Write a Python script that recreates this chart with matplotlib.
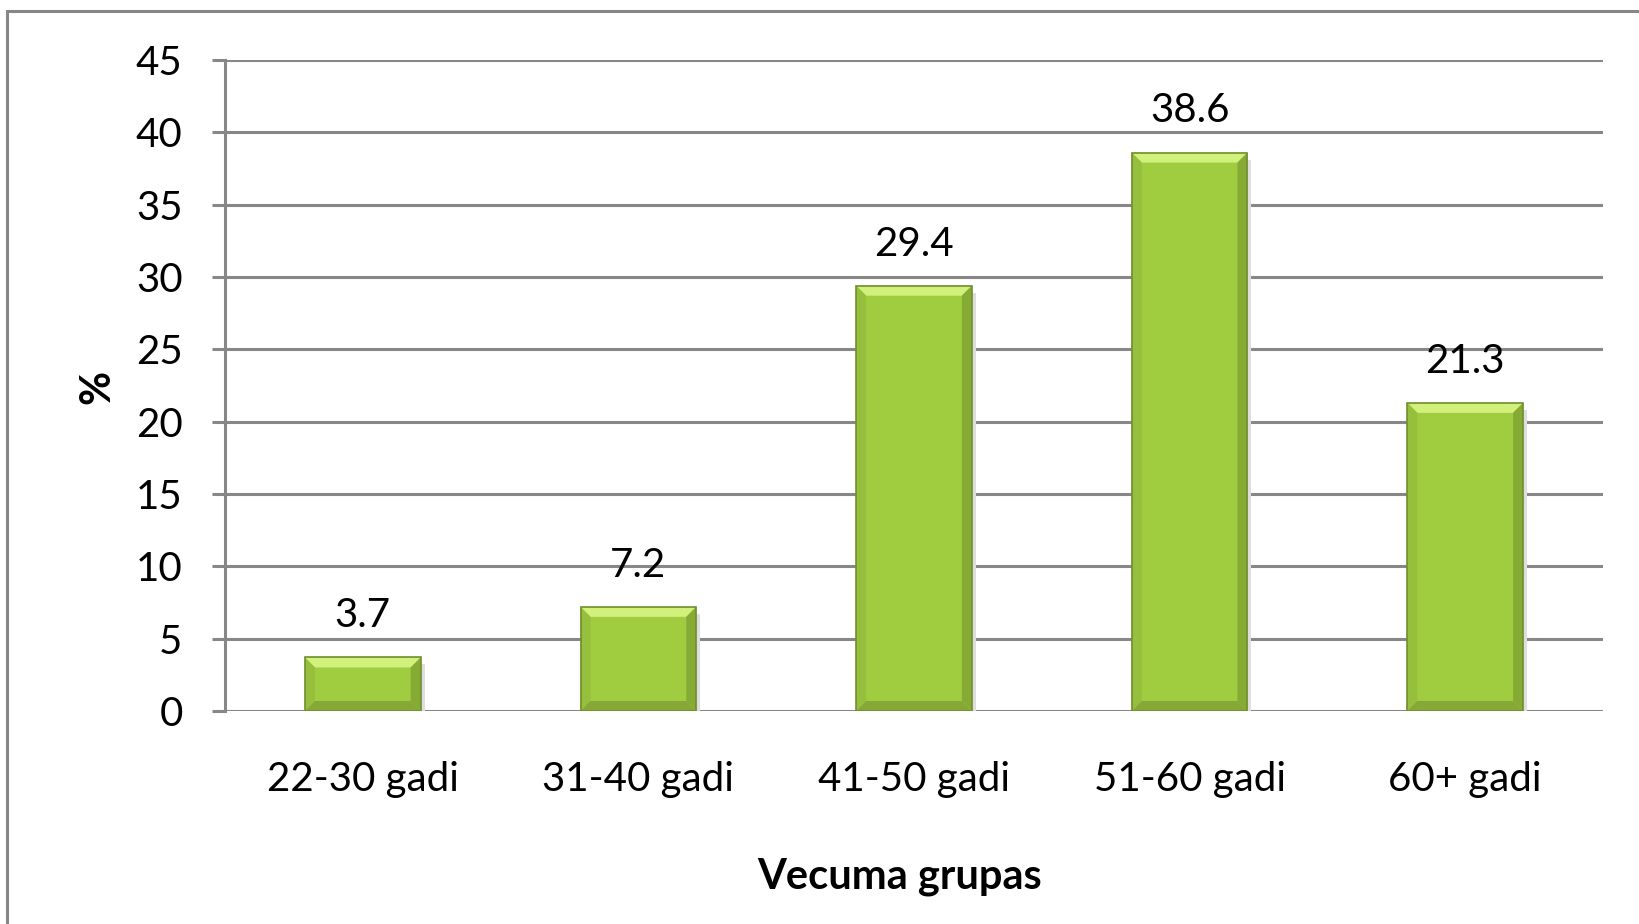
import matplotlib
matplotlib.use("Agg")
import matplotlib.pyplot as plt
from matplotlib.patches import Polygon, Rectangle

# data
groups = ["22-30 gadi", "31-40 gadi", "41-50 gadi", "51-60 gadi", "60+ gadi"]
percent = [3.7, 7.2, 29.4, 38.6, 21.3]
y_ticks = [0, 5, 10, 15, 20, 25, 30, 35, 40, 45]

GRAY = "#878787"
plt.rcParams["font.family"] = ["Lato", "DejaVu Sans"]

fig = plt.figure(figsize=(16.39, 9.24), dpi=100)
ax = fig.add_axes([225 / 1639, 1 - 711 / 924, (1603 - 225) / 1639, (711 - 60) / 924])

# outer chart frame (only top and left edge visible)
fig.patches.append(Rectangle((7 / 1639, -0.5), 2, 1 - 11 / 924 + 0.5,
                             transform=fig.transFigure, fill=False,
                             edgecolor=GRAY, lw=2.2))

x = list(range(len(groups)))
bars = ax.bar(x, percent, width=0.42, color="#a0cc40", zorder=3, linewidth=0)

ax.set_xlim(-0.5, len(groups) - 0.5)
ax.set_ylim(0, 45)
ax.set_yticks(y_ticks)
ax.set_xticks(x)
ax.set_xticklabels(groups)
ax.grid(axis="y", color=GRAY, lw=2.2)
ax.set_axisbelow(True)
for s in ["top", "right", "bottom"]:
    ax.spines[s].set_visible(False)
ax.spines["left"].set_color(GRAY)
ax.spines["left"].set_linewidth(2.2)
ax.tick_params(axis="y", length=9.5, width=2.2, color=GRAY, pad=21, labelsize=29)
ax.tick_params(axis="x", length=0, pad=36, labelsize=29)

# axis titles
fig.text(97 / 1639, 1 - 387 / 924, "%", fontsize=30, fontweight="bold",
         rotation=90, ha="center", va="center")
fig.text(900 / 1639, 1 - 877 / 924, "Vecuma grupas", fontsize=30, fontweight="bold",
         ha="center", va="center")

# bevel effect on bars, size in pixels turned into data units
fig.canvas.draw()
inv = ax.transData.inverted()
p0 = inv.transform((0, 0))
p1 = inv.transform((10, 10))
bx, by = p1[0] - p0[0], p1[1] - p0[1]
for b in bars:
    x0, y0 = b.get_x(), b.get_y()
    x1, y1 = x0 + b.get_width(), y0 + b.get_height()
    # soft shadow
    ax.add_patch(Rectangle((x0 + bx * 0.4, y0 - by * 0.7), b.get_width(), b.get_height(),
                           color="#dedede", zorder=2.5, lw=0))
    ax.add_patch(Polygon([(x0, y1), (x1, y1), (x1 - bx, y1 - by), (x0 + bx, y1 - by)],
                         closed=True, color="#d2f07c", zorder=4, lw=0))
    ax.add_patch(Polygon([(x0, y0), (x0, y1), (x0 + bx, y1 - by), (x0 + bx, y0 + by)],
                         closed=True, color="#95bf3c", zorder=4, lw=0))
    ax.add_patch(Polygon([(x1, y0), (x1, y1), (x1 - bx, y1 - by), (x1 - bx, y0 + by)],
                         closed=True, color="#86ab35", zorder=4, lw=0))
    ax.add_patch(Polygon([(x0, y0), (x1, y0), (x1 - bx, y0 + by), (x0 + bx, y0 + by)],
                         closed=True, color="#87a838", zorder=4, lw=0))
    ax.add_patch(Rectangle((x0, y0), b.get_width(), b.get_height(), fill=False,
                           edgecolor="#708f2e", lw=1.2, zorder=5))
    ax.text(b.get_x() + b.get_width() / 2, y1 + 1.6, f"{y1:.1f}",
            ha="center", va="bottom", fontsize=29, zorder=6)

fig.savefig("out.png", dpi=100)
